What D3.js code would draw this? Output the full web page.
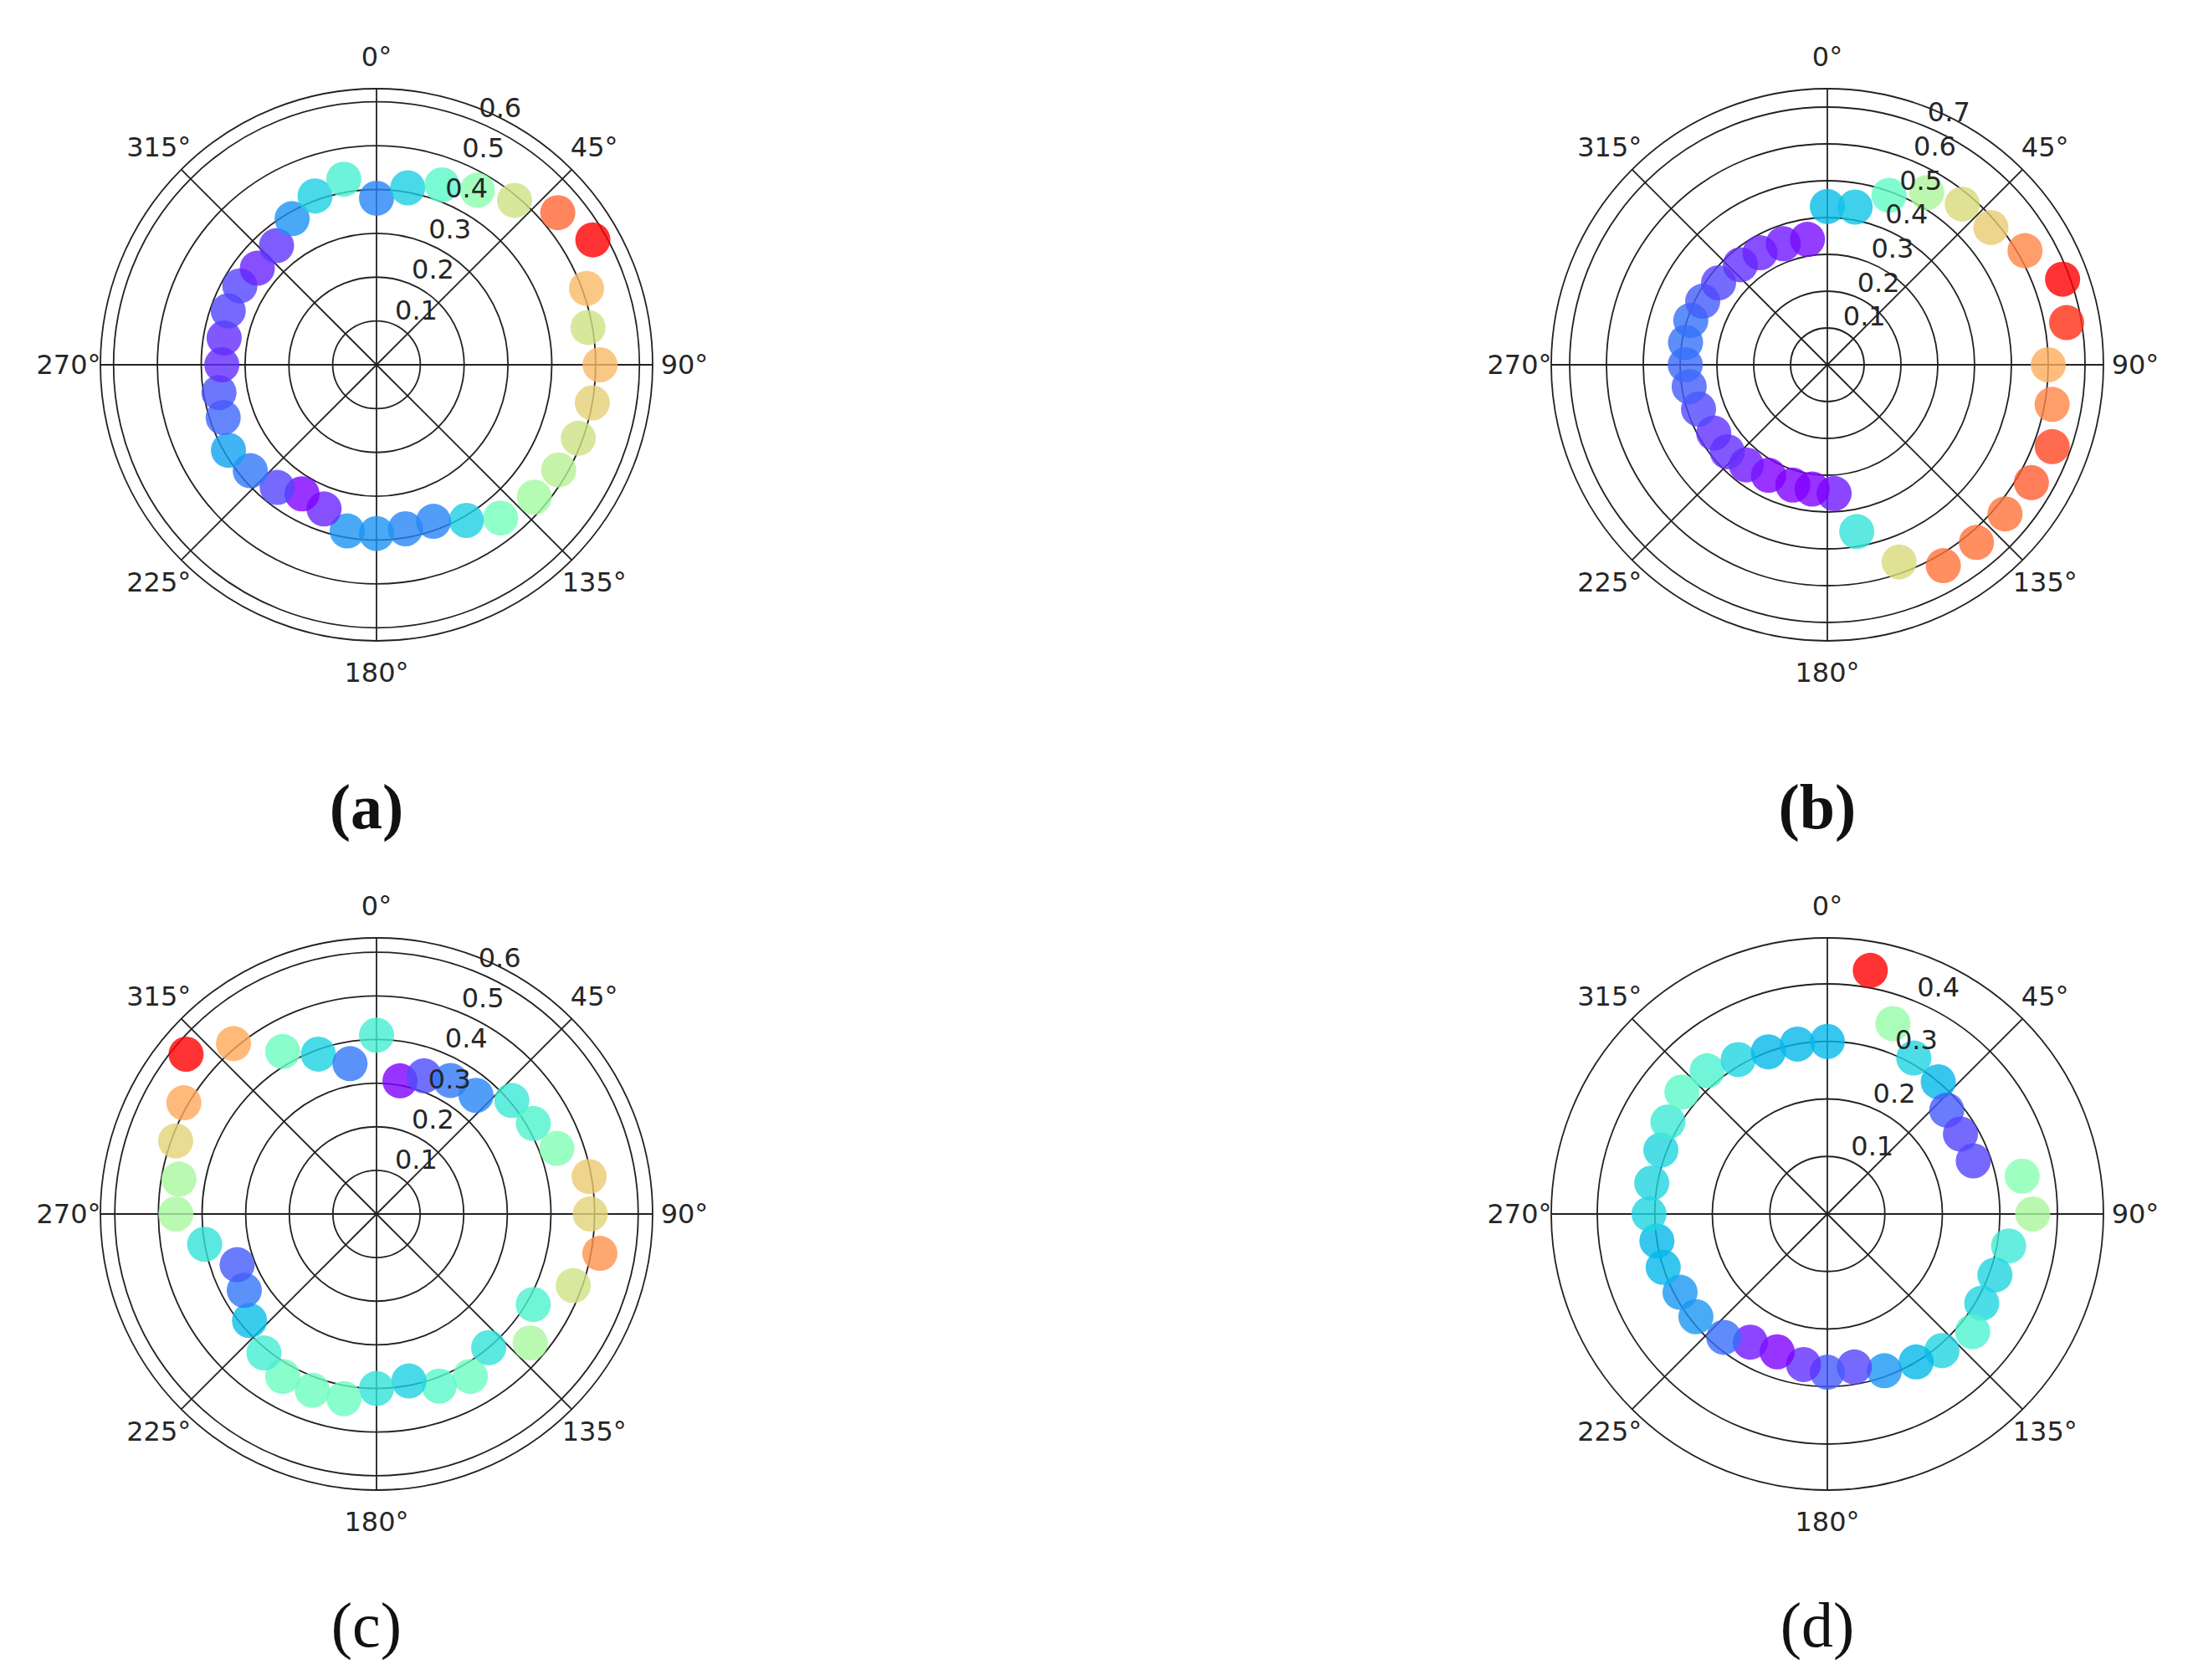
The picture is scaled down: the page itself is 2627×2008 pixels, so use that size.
<!DOCTYPE html>
<html>
<head>
<meta charset="utf-8">
<script src="https://cdn.jsdelivr.net/npm/d3@7"></script>
<style>
  body { margin: 0; background: #fff; }
  text { font-family: "DejaVu Sans", sans-serif; fill: #262626; }
</style>
</head>
<body>
<div id="chart"></div>
<script>
// polar data: angle in degrees (clockwise from north), radius
var anglesA = [0,10,20,30,40,50,60,70,80,90,100,110,120,130,141,150,160,170,180,190,200,210,219,230,240,251,260,270,280,290,300,309,320,330,340,350];
var radiiA = [0.38,0.41,0.437,0.46,0.49,0.54,0.57,0.51,0.49,0.51,0.50,0.49,0.48,0.47,0.45,0.41,0.38,0.38,0.385,0.385,0.35,0.34,0.36,0.376,0.39,0.37,0.365,0.353,0.353,0.36,0.36,0.35,0.355,0.385,0.41,0.43];

var anglesB = [0,10,20,30,40,50,60,70,80,90,100,110,120,130,140,150,160,170,177,187,196,208,219,229,239,251,261,270,279,288,297,307,319,329,340,351];
var radiiB = [0.43,0.435,0.49,0.54,0.57,0.58,0.62,0.68,0.66,0.60,0.62,0.65,0.64,0.63,0.63,0.63,0.57,0.46,0.35,0.34,0.34,0.34,0.35,0.36,0.36,0.37,0.38,0.386,0.39,0.39,0.38,0.37,0.36,0.355,0.35,0.345];

var anglesC = [0,10,19,29,40,50,60,70,80,90,100,110,120,130,140,150,160,169,180,190,200,210,219,230,240,250,260,270,280,290,300,310,320,330,340,350];
var radiiC = [0.41,0.31,0.335,0.35,0.355,0.405,0.415,0.44,0.495,0.49,0.52,0.48,0.415,0.46,0.40,0.43,0.42,0.39,0.40,0.43,0.43,0.43,0.41,0.38,0.35,0.34,0.40,0.46,0.46,0.49,0.51,0.57,0.51,0.43,0.39,0.35];

var anglesD = [0,10,19,29,40,49,59,70,79,90,100,110,120,129,140,149,160,170,180,189,200,211,220,232,242,252,261,270,280,291,300,310,320,330,340,350];
var radiiD = [0.30,0.43,0.35,0.31,0.30,0.275,0.27,0.27,0.345,0.357,0.32,0.31,0.31,0.325,0.31,0.30,0.29,0.27,0.275,0.265,0.255,0.26,0.28,0.29,0.29,0.30,0.30,0.31,0.31,0.31,0.32,0.33,0.325,0.31,0.30,0.30];

var ringTicksA = [0.1,0.2,0.3,0.4,0.5,0.6];
var ringTicksB = [0.1,0.2,0.3,0.4,0.5,0.6,0.7];
var ringTicksC = [0.1,0.2,0.3,0.4,0.5,0.6];
var ringTicksD = [0.1,0.2,0.3,0.4];
var angleTicks = [0,45,90,135,180,225,270,315];
var captions = ["(a)", "(b)", "(c)", "(d)"];

var svgWidth = 2627;
var svgHeight = 2008;
var outerR = 330;

var svg = d3.select("#chart").append("svg")
  .attr("width", svgWidth)
  .attr("height", svgHeight);

// matplotlib "rainbow" colormap
function rainbow(t) {
  var r = Math.min(1, Math.abs(2 * t - 0.5));
  var g = Math.sin(Math.PI * t);
  var b = Math.cos(Math.PI * t / 2);
  return d3.rgb(r * 255, g * 255, b * 255).toString();
}

var panels = [
  { cx: 450, cy: 436, rmax: 0.63, ticks: ringTicksA, ang: anglesA, rad: radiiA, cap: captions[0], capY: 990, bold: true },
  { cx: 2184, cy: 436, rmax: 0.75, ticks: ringTicksB, ang: anglesB, rad: radiiB, cap: captions[1], capY: 990, bold: true },
  { cx: 450, cy: 1451, rmax: 0.633, ticks: ringTicksC, ang: anglesC, rad: radiiC, cap: captions[2], capY: 1968, bold: false },
  { cx: 2184, cy: 1451, rmax: 0.48, ticks: ringTicksD, ang: anglesD, rad: radiiD, cap: captions[3], capY: 1968, bold: false }
];

function drawPanel(p) {
  var g = svg.append("g").attr("transform", `translate(${p.cx}, ${p.cy})`);
  var rScale = d3.scaleLinear().domain([0, p.rmax]).range([0, outerR]);
  var rad = d => (d - 90) * Math.PI / 180;

  // rings
  g.selectAll(".ring").data(p.ticks.concat([p.rmax])).enter()
    .append("circle")
    .attr("r", d => rScale(d))
    .attr("fill", "none")
    .attr("stroke", "#222")
    .attr("stroke-width", 1.8);

  // spokes
  g.selectAll(".spoke").data(angleTicks).enter()
    .append("line")
    .attr("x1", 0).attr("y1", 0)
    .attr("x2", d => outerR * Math.cos(rad(d)))
    .attr("y2", d => outerR * Math.sin(rad(d)))
    .attr("stroke", "#222")
    .attr("stroke-width", 1.8);

  // points, coloured by radius
  var color = d3.scaleLinear().domain(d3.extent(p.rad)).range([0, 1]);
  var pts = p.ang.map((a, i) => ({ a: a, r: p.rad[i] }));
  g.selectAll(".pt").data(pts).enter()
    .append("circle")
    .attr("cx", d => rScale(d.r) * Math.cos(rad(d.a)))
    .attr("cy", d => rScale(d.r) * Math.sin(rad(d.a)))
    .attr("r", 21)
    .attr("fill", d => rainbow(color(d.r)))
    .attr("opacity", 0.8);

  // radial tick labels at 22.5 degrees
  g.selectAll(".rlab").data(p.ticks).enter()
    .append("text")
    .attr("x", d => rScale(d) * Math.cos(rad(22.5)) + 2)
    .attr("y", d => rScale(d) * Math.sin(rad(22.5)) - 6)
    .attr("font-size", 32)
    .text(d => d3.format(".1f")(d));

  // angle labels
  g.selectAll(".alab").data(angleTicks).enter()
    .append("text")
    .attr("x", d => 368 * Math.cos(rad(d)))
    .attr("y", d => 368 * Math.sin(rad(d)))
    .attr("text-anchor", "middle")
    .attr("dominant-baseline", "central")
    .attr("font-size", 32)
    .text(d => d + "°");

  svg.append("text")
    .attr("x", p.cx - 12)
    .attr("y", p.capY)
    .attr("text-anchor", "middle")
    .attr("font-size", 76)
    .attr("font-weight", p.bold ? "bold" : "normal")
    .style("font-family", "'Liberation Serif', serif")
    .style("fill", "#111")
    .text(p.cap);
}

panels.forEach(drawPanel);
</script>
</body>
</html>
